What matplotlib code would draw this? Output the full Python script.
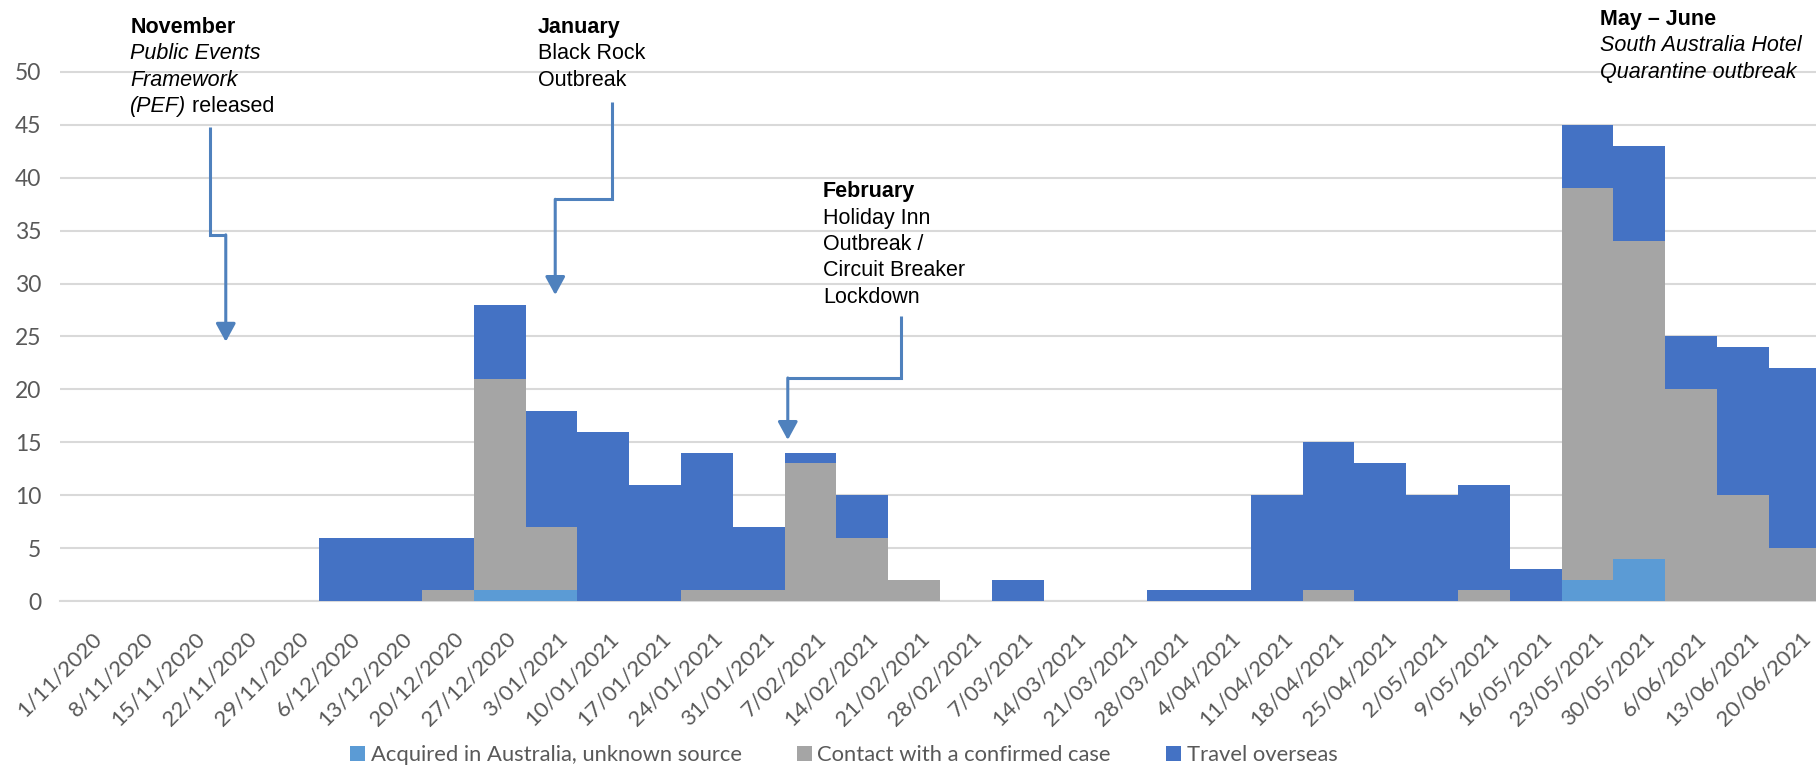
import matplotlib
matplotlib.use('Agg')
from matplotlib import pyplot as plt
from matplotlib.patches import Patch
import matplotlib.transforms as mtransforms
import numpy as np

#############
# The data  #
#############

weeks = ['1/11/2020', '8/11/2020', '15/11/2020', '22/11/2020', '29/11/2020',
         '6/12/2020', '13/12/2020', '20/12/2020', '27/12/2020', '3/01/2021',
         '10/01/2021', '17/01/2021', '24/01/2021', '31/01/2021', '7/02/2021',
         '14/02/2021', '21/02/2021', '28/02/2021', '7/03/2021', '14/03/2021',
         '21/03/2021', '28/03/2021', '4/04/2021', '11/04/2021', '18/04/2021',
         '25/04/2021', '2/05/2021', '9/05/2021', '16/05/2021', '23/05/2021',
         '30/05/2021', '6/06/2021', '13/06/2021', '20/06/2021']

acquired = [0, 0, 0, 0, 0, 0, 0, 0, 1, 1, 0, 0, 0, 0, 0, 0, 0,
            0, 0, 0, 0, 0, 0, 0, 0, 0, 0, 0, 0, 2, 4, 0, 0, 0]
contact = [0, 0, 0, 0, 0, 0, 0, 1, 20, 6, 0, 0, 1, 1, 13, 6, 2,
           0, 0, 0, 0, 0, 0, 0, 1, 0, 0, 1, 0, 37, 30, 20, 10, 5]
travel = [0, 0, 0, 0, 0, 6, 6, 5, 7, 11, 16, 11, 13, 6, 1, 4, 0,
          0, 2, 0, 0, 1, 1, 10, 14, 13, 10, 10, 3, 6, 9, 5, 14, 17]

series_names = ['Acquired in Australia, unknown source',
                'Contact with a confirmed case', 'Travel overseas']
series_colors = ['#5B9BD5', '#A5A5A5', '#4472C4']

##################
# Plotting stuff #
##################

fig = plt.figure(figsize=(18.16, 7.66), dpi=100)
ax = fig.add_axes([0.0328, 0.2153, 0.9697, 0.7847])

x = np.arange(len(weeks))
acq = np.array(acquired)
con = np.array(contact)
trv = np.array(travel)

ax.bar(x, acq, width=1.0, color=series_colors[0], linewidth=0, zorder=2)
ax.bar(x, con, bottom=acq, width=1.0, color=series_colors[1], linewidth=0, zorder=2)
ax.bar(x, trv, bottom=acq + con, width=1.0, color=series_colors[2], linewidth=0, zorder=2)

ax.set_xlim(-0.5, len(weeks) - 0.5)
ax.set_ylim(0, 56.79)
ax.set_yticks(range(0, 55, 5))
ax.yaxis.grid(True, color='#d9d9d9', linewidth=1.5)
ax.axhline(0, color='#d9d9d9', linewidth=1.5, clip_on=False, zorder=1)
ax.set_axisbelow(True)
for s in ax.spines.values():
    s.set_visible(False)

ax.tick_params(length=0)
ax.tick_params(axis='y', pad=13, labelcolor='#595959')
ax.tick_params(axis='x', pad=19.5, labelcolor='#595959')
ax.set_xticks(x)
ax.set_xticklabels(weeks, rotation=45, ha='right', va='top',
                   rotation_mode='anchor', fontfamily='Lato', fontsize=16)
for lab in ax.get_yticklabels():
    lab.set_fontfamily('Lato')
    lab.set_fontsize(16.5)
shift = mtransforms.ScaledTranslation(4 / 72, 0, fig.dpi_scale_trans)
for lab in ax.get_xticklabels():
    lab.set_transform(lab.get_transform() + shift)

###############
# Annotations #
###############

arrow_col = '#4F81BD'
step = 2.5
note_font = dict(family='Liberation Sans', size=15.5, color='black')


def note(x0, y0, lines):
    for i, parts in enumerate(lines):
        y = y0 - i * step
        prev = None
        for txt, style, weight in parts:
            if prev is None:
                prev = ax.text(x0, y, txt, fontstyle=style, fontweight=weight,
                               ha='left', va='baseline', clip_on=False, **note_font)
            else:
                prev = ax.annotate(txt, xy=(1, 0), xycoords=prev, fontstyle=style,
                                   fontweight=weight, ha='left', va='bottom',
                                   annotation_clip=False, **note_font)


def elbow(pts, tip):
    xs = [p[0] for p in pts]
    ys = [p[1] for p in pts]
    ax.plot(xs, ys, color=arrow_col, linewidth=2.2, solid_capstyle='butt',
            solid_joinstyle='miter', clip_on=False, zorder=5)
    ax.annotate('', xy=tip, xytext=pts[-1],
                arrowprops=dict(arrowstyle='-|>,head_length=0.55,head_width=0.3',
                                color=arrow_col, linewidth=2.2, shrinkA=0, shrinkB=0,
                                mutation_scale=20),
                annotation_clip=False, zorder=5)


note(0.867, 53.67, [[('November', 'normal', 'bold')],
                    [('Public Events', 'italic', 'normal')],
                    [('Framework', 'italic', 'normal')],
                    [('(PEF)', 'italic', 'normal'), (' released', 'normal', 'normal')]])
elbow([(2.396, 44.78), (2.396, 34.6), (2.709, 34.6)], (2.709, 24.5))

note(8.74, 53.67, [[('January', 'normal', 'bold')],
                   [('Black Rock', 'normal', 'normal')],
                   [('Outbreak', 'normal', 'normal')]])
elbow([(10.16, 47.18), (10.16, 37.96), (9.07, 37.96)], (9.07, 28.92))

note(14.24, 38.17, [[('February', 'normal', 'bold')],
                    [('Holiday Inn', 'normal', 'normal')],
                    [('Outbreak /', 'normal', 'normal')],
                    [('Circuit Breaker', 'normal', 'normal')],
                    [('Lockdown', 'normal', 'normal')]])
elbow([(15.74, 26.93), (15.74, 21.08), (13.56, 21.08)], (13.56, 15.22))

note(29.24, 54.45, [[('May \u2013 June', 'normal', 'bold')],
                    [('South Australia Hotel', 'italic', 'normal')],
                    [('Quarantine outbreak', 'italic', 'normal')]])

##########
# Legend #
##########

handles = [Patch(facecolor=c, edgecolor='none') for c in series_colors]
leg = fig.legend(handles, series_names, loc='center left',
                 bbox_to_anchor=(0.1927, 0.0144), ncol=3, frameon=False,
                 prop=dict(family='Lato', size=15.8), handlelength=0.7,
                 handleheight=0.7, handletextpad=0.25, columnspacing=2.5,
                 borderpad=0, borderaxespad=0)
for t in leg.get_texts():
    t.set_color('#595959')

fig.savefig('out.png', dpi=100)
